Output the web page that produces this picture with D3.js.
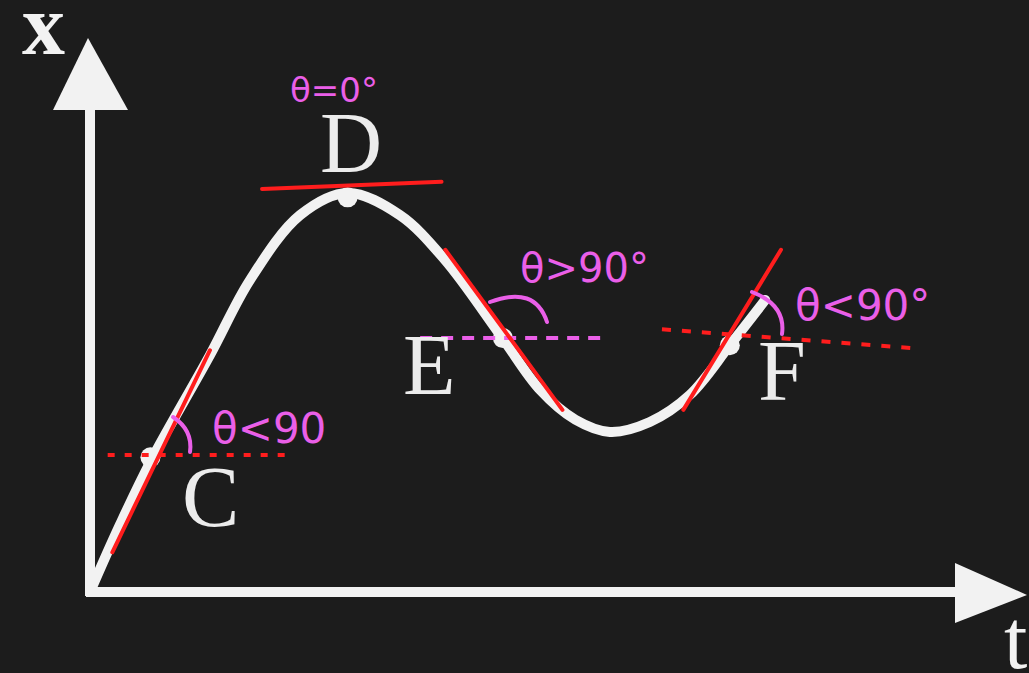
<!DOCTYPE html>
<html>
<head>
<meta charset="utf-8">
<script src="https://cdn.jsdelivr.net/npm/d3@7"></script>
<style>
  html, body { margin: 0; padding: 0; background: #1c1c1c; }
  svg { display: block; }
</style>
</head>
<body>
<svg id="chart" width="1029" height="673"></svg>
<script>
// Position–time curve x(t): sampled points (t, x)
const curveT = [0, 3.2, 6.5, 12.9, 17.2, 22.6, 27.7, 33.3, 38.2, 44.1, 48.4, 52.2, 55.9, 60.2, 64.5, 68.8, 72.6];
const curveX = [0, 12.1, 23.6, 42.9, 56.5, 68.3, 72.3, 68.3, 60.1, 46.6, 36.6, 31.2, 29.0, 30.8, 35.7, 44.7, 52.9];

// Marked points on the curve
const pointNames = ["C", "D", "E", "F"];
const pointT = [6.5, 27.7, 44.4, 68.8];
const pointX = [24.4, 71.5, 46.0, 44.7];

// Tangent segments at each point: [t0, x0, t1, x1]
const tangentC = [2.4, 7.2, 12.9, 43.8];
const tangentD = [18.5, 73.0, 37.8, 74.3];
const tangentE = [38.2, 62.0, 50.8, 33.0];
const tangentF = [63.8, 33.0, 74.3, 62.0];

// Horizontal reference lines: [t0, x0, t1, x1]
const refC = [1.9, 24.8, 21.5, 24.8];
const refE = [35.5, 46.0, 55.7, 46.0];
const refF = [61.5, 47.6, 88.2, 44.2];

// Angle notes
const notes = ["θ<90", "θ=0°", "θ>90°", "θ<90°"];

const svg = d3.select("#chart");
const W = 1029, H = 673;

const x = d3.scaleLinear().domain([0, 100]).range([90, 1020]);
const y = d3.scaleLinear().domain([0, 100]).range([592, 40]);

const WHITE = "#f2f2f2";
const RED = "#ff1d1d";
const PINK = "#ea5fe8";

svg.append("rect").attr("width", W).attr("height", H).attr("fill", "#1c1c1c");

// Axes with arrowheads
const ox = x(0), oy = y(0);
svg.append("line").attr("x1", ox).attr("y1", oy + 4).attr("x2", ox).attr("y2", 105)
  .attr("stroke", WHITE).attr("stroke-width", 10);
svg.append("line").attr("x1", ox - 4).attr("y1", oy).attr("x2", 960).attr("y2", oy)
  .attr("stroke", WHITE).attr("stroke-width", 10);
svg.append("path").attr("d", `M${ox - 2},38 L${ox - 37},110 L${ox + 38},110 Z`).attr("fill", WHITE);
svg.append("path").attr("d", `M1027,${oy + 3} L955,${oy - 29} L955,${oy + 31} Z`).attr("fill", WHITE);

const serif = "'Liberation Serif', 'DejaVu Serif', serif";
svg.append("text").attr("x", 22).attr("y", 54).text("x")
  .attr("font-family", serif).attr("font-size", 86).attr("font-weight", "bold").attr("fill", WHITE);
svg.append("text").attr("x", 1004).attr("y", 668).text("t")
  .attr("font-family", serif).attr("font-size", 84).attr("fill", WHITE);

// Curve
const curveData = curveT.map((t, i) => [t, curveX[i]]);
const line = d3.line().x(d => x(d[0])).y(d => y(d[1])).curve(d3.curveCatmullRom.alpha(0.5));
svg.append("path").datum(curveData).attr("d", line)
  .attr("fill", "none").attr("stroke", WHITE).attr("stroke-width", 10)
  .attr("stroke-linecap", "round");

// Points
svg.selectAll("circle.pt").data(pointT).join("circle")
  .attr("class", "pt")
  .attr("cx", (d) => x(d)).attr("cy", (d, i) => y(pointX[i]))
  .attr("r", 10).attr("fill", WHITE);

// Reference lines
function seg(s) { return { x1: x(s[0]), y1: y(s[1]), x2: x(s[2]), y2: y(s[3]) }; }
[[refC, RED, "7 10"], [refE, PINK, "12 9"], [refF, RED, "9 11"]].forEach(([s, c, dash]) => {
  const p = seg(s);
  svg.append("line").attr("x1", p.x1).attr("y1", p.y1).attr("x2", p.x2).attr("y2", p.y2)
    .attr("stroke", c).attr("stroke-width", 4).attr("stroke-dasharray", dash);
});

// Tangents
[tangentC, tangentD, tangentE, tangentF].forEach(s => {
  const p = seg(s);
  svg.append("line").attr("x1", p.x1).attr("y1", p.y1).attr("x2", p.x2).attr("y2", p.y2)
    .attr("stroke", RED).attr("stroke-width", 4).attr("stroke-linecap", "round");
});

// Point labels
const labelPos = { C: [182, 526], D: [320, 172], E: [403, 394], F: [758, 400] };
pointNames.forEach(n => {
  svg.append("text").attr("x", labelPos[n][0]).attr("y", labelPos[n][1]).text(n)
    .attr("font-family", serif).attr("font-size", 86).attr("fill", "#ececec");
});

// Angle arcs
const arcs = [
  "M173,417 Q193,430 190,452",
  "M490,302 Q535,285 547,322",
  "M752,292 Q786,305 782,334"
];
arcs.forEach(d => {
  svg.append("path").attr("d", d).attr("fill", "none").attr("stroke", PINK)
    .attr("stroke-width", 4).attr("stroke-linecap", "round");
});

// Angle notes
const notePos = [[212, 443, 42], [290, 102, 34], [520, 282, 40], [795, 320, 42]];
notes.forEach((t, i) => {
  svg.append("text").attr("x", notePos[i][0]).attr("y", notePos[i][1]).text(t)
    .attr("font-family", "'DejaVu Sans', sans-serif").attr("font-size", notePos[i][2])
    .attr("fill", PINK);
});
</script>
</body>
</html>
